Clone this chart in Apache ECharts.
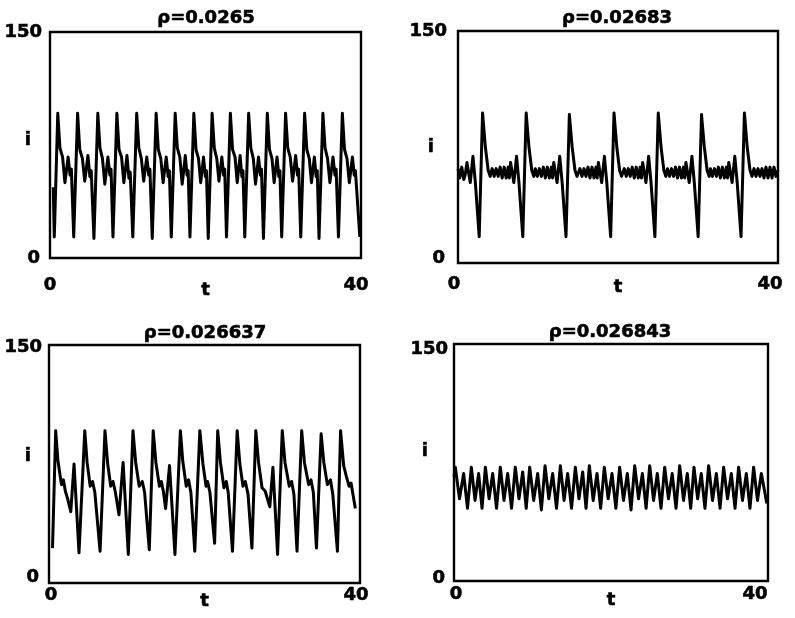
<!DOCTYPE html>
<html><head><meta charset="utf-8">
<script src="https://cdn.jsdelivr.net/npm/echarts@6/dist/echarts.min.js"></script>
<style>html,body{margin:0;padding:0;background:#fff}#c{width:795px;height:618px}</style>
</head><body><div id="c"></div>
<script>
// ---------------- data ----------------
const titles = ['ρ=0.0265', 'ρ=0.02683', 'ρ=0.026637', 'ρ=0.026843'];
const xTicks = [0, 40];
const xTickLabels = ['0', '40'];
const yTicks = [0, 150];
const yTickLabels = ['0', '150'];
const xName = 't';
const yName = 'i';

// top-left, rho = 0.0265  : [t, i]
const dataTL = [
 [0.42,47],[0.55,14],
 [1.0,96],[1.28,73],[1.62,67],[1.92,50],[2.33,67],[2.58,55],[2.75,59],[3.05,14],
 [3.55,96],[3.83,72],[4.17,66],[4.47,51],[4.88,68],[5.13,54],[5.3,58],[5.65,13],
 [6.15,96],[6.43,73],[6.75,66],[7.05,49],[7.45,67],[7.7,55],[7.85,59],[8.1,14],
 [8.6,96],[8.88,72],[9.2,67],[9.5,50],[9.9,68],[10.15,53],[10.32,57],[10.65,14],
 [11.15,96],[11.43,73],[11.75,66],[12.05,51],[12.45,67],[12.7,55],[12.85,59],[13.15,13],
 [13.65,96],[13.93,72],[14.25,66],[14.55,50],[14.95,67],[15.2,54],[15.35,58],[15.6,14],
 [16.1,96],[16.38,73],[16.7,67],[17.0,49],[17.4,68],[17.62,55],[17.77,58],[18.0,14],
 [18.5,96],[18.78,72],[19.1,66],[19.38,50],[19.75,67],[19.98,54],[20.12,58],[20.35,13],
 [20.85,96],[21.13,73],[21.45,66],[21.73,51],[22.1,67],[22.33,55],[22.47,59],[22.7,14],
 [23.2,96],[23.48,72],[23.8,67],[24.08,50],[24.45,68],[24.68,54],[24.82,58],[25.05,14],
 [25.55,96],[25.83,73],[26.15,66],[26.43,49],[26.82,67],[27.05,55],[27.2,59],[27.45,13],
 [27.95,96],[28.23,72],[28.55,66],[28.83,50],[29.2,67],[29.43,54],[29.57,58],[29.8,14],
 [30.3,96],[30.58,73],[30.9,67],[31.2,51],[31.6,68],[31.83,55],[31.98,59],[32.25,14],
 [32.75,96],[33.03,72],[33.35,66],[33.63,50],[34.0,67],[34.23,54],[34.37,58],[34.6,13],
 [35.1,96],[35.38,73],[35.7,66],[36.0,50],[36.4,67],[36.65,55],[36.8,59],[37.1,14],
 [37.6,96],[37.88,72],[38.2,66],[38.5,50],[38.9,67],[39.13,55],[39.28,58],[39.85,14]
];

// top-right, rho = 0.02683
const dataTR = [
 [0,61],[0.22,55],[0.47,62],[0.72,54],[0.9,57],[1.12,65],[1.53,52],[1.87,69],[2.17,52],[2.65,17],
 [3.07,97],[3.42,75],[3.77,60],[4.02,56],[4.27,61],[4.52,56],[4.77,61],[5.02,56],[5.27,62],[5.52,55],[5.77,62],[6.02,55],[6.27,62],[6.42,55],[6.57,65],[6.98,52],[7.32,69],[7.62,52],[8.1,17],
 [8.52,97],[8.87,75],[9.22,60],[9.47,56],[9.67,61],[9.92,56],[10.17,61],[10.42,56],[10.67,62],[10.92,55],[11.17,62],[11.42,55],[11.67,62],[11.82,55],[11.97,65],[12.38,52],[12.72,69],[13.02,52],[13.5,17],
 [13.92,96],[14.27,75],[14.62,60],[14.87,56],[15.25,61],[15.5,56],[15.75,61],[16.0,56],[16.25,62],[16.5,55],[16.75,62],[17.0,55],[17.25,62],[17.4,55],[17.55,65],[17.96,52],[18.3,69],[18.6,52],[19.08,17],
 [19.5,97],[19.85,75],[20.2,60],[20.45,56],[20.78,61],[21.03,56],[21.28,61],[21.53,56],[21.78,62],[22.03,55],[22.28,62],[22.53,55],[22.78,62],[22.93,55],[23.08,65],[23.49,52],[23.83,69],[24.13,52],[24.61,17],
 [25.03,97],[25.38,75],[25.73,60],[25.98,56],[26.19,61],[26.44,56],[26.69,61],[26.94,56],[27.19,62],[27.44,55],[27.69,62],[27.94,55],[28.19,62],[28.34,55],[28.49,65],[28.9,52],[29.24,69],[29.54,52],[30.02,17],
 [30.44,96],[30.79,75],[31.14,60],[31.39,56],[31.55,61],[31.8,56],[32.05,61],[32.3,56],[32.55,62],[32.8,55],[33.05,62],[33.3,55],[33.55,62],[33.7,55],[33.85,65],[34.26,52],[34.6,69],[34.9,52],[35.38,17],
 [35.8,97],[36.15,75],[36.5,60],[36.75,56],[37.0,61],[37.25,56],[37.5,61],[37.75,56],[38.0,61],[38.25,55],[38.5,62],[38.75,55],[39.0,62],[39.25,55],[39.5,62],[39.75,56],[40.0,60]
];

// bottom-left, rho = 0.026637
const dataBL = [
 [0.45,22],[0.86,96],[1.15,77],[1.6,62],[1.85,65],[2.1,58],[2.4,53],[2.8,45],[3.22,75],[3.86,19],
 [4.6,96],[4.9,76],[5.3,61],[5.6,64],[5.9,57],[6.57,20],
 [7.2,96],[7.55,75],[7.94,61],[8.24,64],[8.54,57],[9.0,43],[9.53,76],[10.2,18],
 [10.8,96],[11.15,76],[11.6,61],[12.0,64],[12.3,57],[12.9,21],
 [13.4,96],[13.75,76],[14.2,61],[14.45,64],[14.7,58],[15.0,47],[15.5,74],[16.2,18],
 [16.9,96],[17.2,77],[17.65,61],[17.95,65],[18.25,57],[18.75,20],
 [19.4,96],[19.8,75],[20.2,61],[20.4,64],[20.7,57],[21.3,25],
 [21.7,96],[22.05,76],[22.5,60],[22.8,64],[23.05,57],[23.6,20],
 [24.2,96],[24.55,75],[24.95,61],[25.25,64],[25.6,56],[26.1,22],
 [26.6,96],[26.95,76],[27.4,60],[27.8,58],[28.4,48],[28.8,73],[29.4,18],
 [30.0,96],[30.35,76],[30.9,61],[31.2,64],[31.5,56],[31.9,20],
 [32.5,96],[32.85,76],[33.4,62],[33.7,65],[34.0,57],[34.4,22],
 [35.0,94],[35.35,76],[35.8,62],[36.2,65],[36.5,56],[37.1,20],
 [37.5,96],[37.9,74],[38.25,67],[38.6,61],[38.85,63],[39.4,47]
];

// bottom-right, rho = 0.026843
const dataBR = [
 [0,66],[0.17,72],[0.7,52],[1.23,68],[1.72,46],[2.21,72],[2.68,51],[3.14,68],[3.57,46],[4.0,72],
 [4.47,52],[4.93,68],[5.42,46],[5.9,72],[6.37,51],[6.84,68],[7.33,46],[7.81,72],[8.28,52],[8.75,69],
 [9.2,46],[9.64,72],[10.15,51],[10.66,68],[11.13,45],[11.6,73],[12.08,52],[12.57,68],[13.06,46],[13.55,73],
 [14.02,51],[14.48,68],[14.97,46],[15.46,72],[15.92,52],[16.39,69],[16.82,46],[17.24,73],[17.73,51],[18.22,68],
 [18.68,46],[19.15,72],[19.64,52],[20.13,68],[20.62,46],[21.1,72],[21.59,51],[22.08,68],[22.55,45],[23.02,73],
 [23.51,52],[24.0,68],[24.47,46],[24.93,73],[25.42,51],[25.9,68],[26.37,46],[26.84,72],[27.32,52],[27.8,68],
 [28.28,46],[28.75,73],[29.24,51],[29.72,68],[30.15,46],[30.57,72],[31.04,52],[31.5,68],[31.97,46],[32.44,73],
 [32.93,51],[33.42,68],[33.89,46],[34.35,72],[34.84,52],[35.33,68],[35.8,46],[36.26,72],[36.75,51],[37.24,68],
 [37.7,46],[38.17,72],[38.66,51],[39.15,68],[39.85,49]
];

const panelData = [dataTL, dataTR, dataBL, dataBR];

// ---------------- layout ----------------
const FONT = 'DejaVu Sans';
const base = { fontFamily: FONT, fontSize: 18, fontWeight: 'bold', color: '#000',
               textBorderColor: '#000', textBorderWidth: 0.6 };
const layouts = [
  { grid: {left: 50, top: 32, width: 311, height: 226}, title: [206, 9],
    xMargin: 18, xOff: [[0,0],[-5,0]], yMargin: 8, yOff: [[-2,0],[0,0]], xNameGap: 23, yNameGap: 19, yNameShift: -5 },
  { grid: {left: 458, top: 31, width: 320, height: 232}, title: [617, 9],
    xMargin: 12, xOff: [[-4,0],[-8,0]], yMargin: 11, yOff: [[-2,-5],[0,0]], xNameGap: 15, yNameGap: 24, yNameShift: 0 },
  { grid: {left: 49, top: 345, width: 311, height: 238}, title: [205, 324],
    xMargin: 3, xOff: [[2,0],[-4,0]], yMargin: 7, yOff: [[-3,-6],[0,2]], xNameGap: 9, yNameGap: 18, yNameShift: -8 },
  { grid: {left: 454, top: 344, width: 314, height: 237}, title: [610, 323],
    xMargin: 4, xOff: [[2,0],[-13,0]], yMargin: 6, yOff: [[-3,-3],[0,5]], xNameGap: 10, yNameGap: 26, yNameShift: -11 }
];

function xRich(off) {
  const dx = off[0], dy = off[1];
  return Object.assign({}, base, {
    padding: [dy > 0 ? 2*dy : 0, dx < 0 ? -2*dx : 0, dy < 0 ? -2*dy : 0, dx > 0 ? 2*dx : 0]
  });
}
function yRich(off) {
  const dx = off[0], dy = off[1];
  return Object.assign({}, base, {
    padding: [dy > 0 ? 2*dy : 0, dx < 0 ? -dx : 0, dy < 0 ? -2*dy : 0, 0]
  });
}

const option = {
  animation: false,
  backgroundColor: '#fff',
  title: layouts.map((l, k) => ({
    text: titles[k], left: l.title[0], top: l.title[1], textAlign: 'center', padding: 0,
    textStyle: base
  })),
  grid: layouts.map(l => Object.assign({}, l.grid, { show: true, borderColor: '#000', borderWidth: 2.4, backgroundColor: 'transparent' })),
  xAxis: layouts.map((l, k) => ({
    gridIndex: k, type: 'value', min: xTicks[0], max: xTicks[1], interval: xTicks[1] - xTicks[0],
    axisLine: {show: false}, axisTick: {show: false}, splitLine: {show: false},
    axisLabel: Object.assign({}, base, {
      margin: l.xMargin,
      formatter: v => { const j = xTicks.indexOf(v); return '{x' + j + '|' + xTickLabels[j] + '}'; },
      rich: { x0: xRich(l.xOff[0]), x1: xRich(l.xOff[1]) }
    }),
    name: xName, nameLocation: 'middle', nameGap: l.xNameGap, nameMoveOverlap: false, nameTextStyle: base
  })),
  yAxis: layouts.map((l, k) => ({
    gridIndex: k, type: 'value', min: yTicks[0], max: yTicks[1], interval: yTicks[1] - yTicks[0],
    axisLine: {show: false}, axisTick: {show: false}, splitLine: {show: false},
    axisLabel: Object.assign({}, base, {
      margin: l.yMargin,
      formatter: v => { const j = yTicks.indexOf(v); return '{y' + j + '|' + yTickLabels[j] + '}'; },
      rich: { y0: yRich(l.yOff[0]), y1: yRich(l.yOff[1]) }
    }),
    name: '{n|' + yName + '}', nameLocation: 'middle', nameRotate: 0, nameGap: l.yNameGap, nameMoveOverlap: false,
    nameTextStyle: Object.assign({}, base, {
      rich: { n: Object.assign({}, base, {
        padding: [l.yNameShift > 0 ? 2*l.yNameShift : 0, 0, l.yNameShift < 0 ? -2*l.yNameShift : 0, 0]
      }) }
    })
  })),
  series: panelData.map((d, k) => ({
    type: 'line', xAxisIndex: k, yAxisIndex: k, data: d,
    showSymbol: false, symbol: 'none', smooth: false,
    lineStyle: { color: '#000', width: 3, join: 'round' }
  }))
};

const chart = echarts.init(document.getElementById('c'), null, { renderer: 'canvas' });
chart.setOption(option);
</script>
</body></html>
